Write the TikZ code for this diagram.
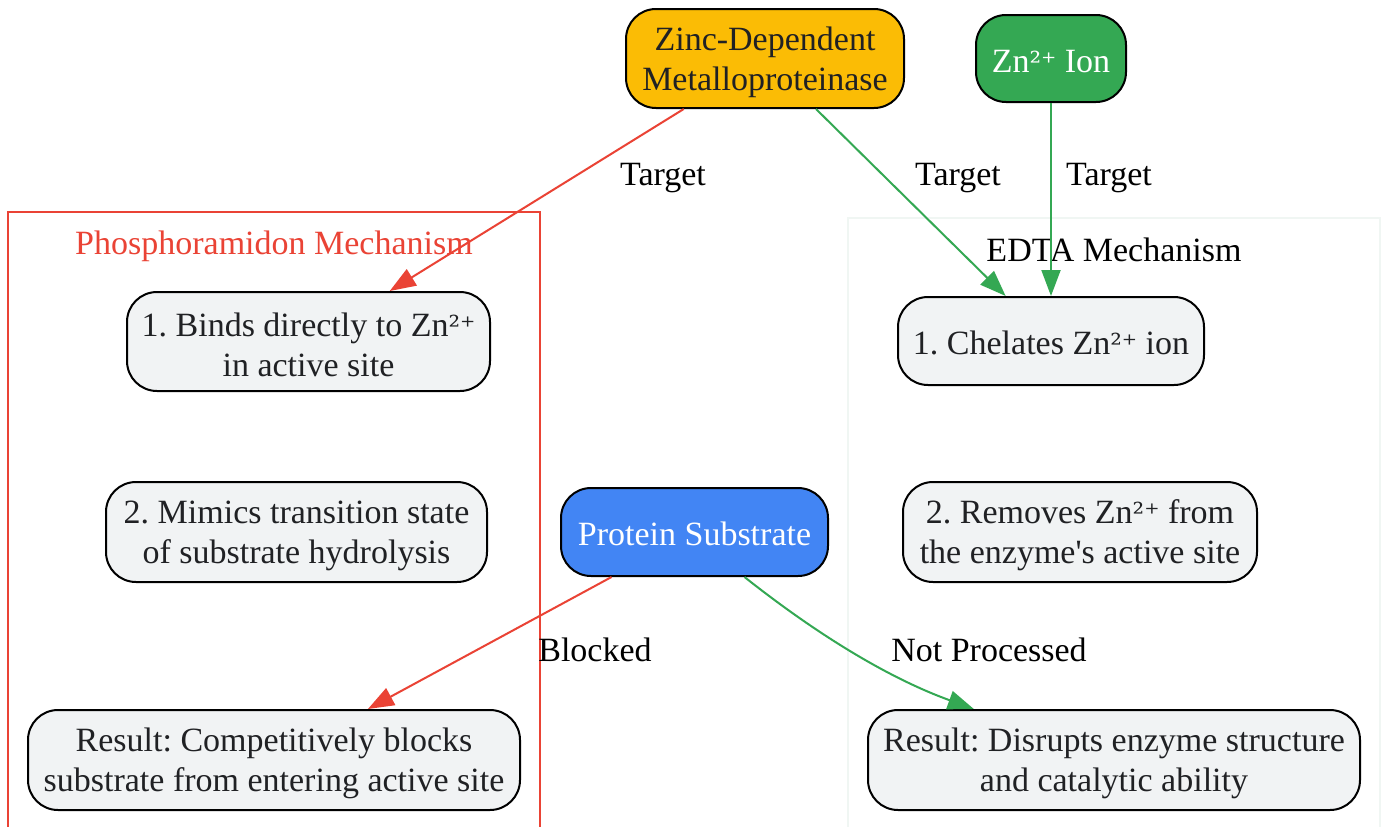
\documentclass[tikz,border=0pt]{standalone}
\usepackage{fontspec}
\setmainfont{Liberation Serif}
\newfontfamily\supfont{DejaVu Serif}[Scale=0.85]
\newcommand{\ztwo}{{\supfont ²⁺}}
\newcommand{\fl}{\rule{0pt}{31pt}}
\frenchspacing
\usetikzlibrary{arrows.meta}
\definecolor{gred}{HTML}{EA4335}
\definecolor{ggreen}{HTML}{34A853}
\definecolor{gyellow}{HTML}{FBBC05}
\definecolor{gblue}{HTML}{4285F4}
\definecolor{ggray}{HTML}{F1F3F4}
\definecolor{gtext}{HTML}{202124}
\definecolor{edtaborder}{HTML}{F0F6F3}
\begin{document}
\begin{tikzpicture}[x=1pt,y=-1pt,
  every node/.style={font=\fontsize{34}{40}\selectfont\frenchspacing, execute at begin node={\rule{0pt}{28pt}}},
  box/.style={draw=black, line width=2pt, rounded corners=30pt, align=center, inner sep=0pt, text=gtext},
  stepbox/.style={box, fill=ggray},
  lbl/.style={text=black, inner sep=0pt},
  redarrow/.style={draw=gred, line width=2pt, -{Triangle[length=26pt,width=19pt]}},
  greenarrow/.style={draw=ggreen, line width=2pt, -{Triangle[length=26pt,width=19pt]}}
]
\useasboundingbox (0,0) rectangle (1387,827);
\fill[white] (0,0) rectangle (1387,827);
% clusters
\draw[gred, line width=2pt] (8,850) -- (8,212) -- (540,212) -- (540,850);
\node[lbl, text=gred] (phlabel) at (274,244) {Phosphoramidon Mechanism};
\draw[edtaborder, line width=2pt] (848,850) -- (848,218) -- (1380,218) -- (1380,850);
\node[lbl] (edlabel) at (1114,248) {EDTA Mechanism};
% nodes
\node[box, fill=gyellow, minimum width=278pt, minimum height=99pt] (zinc) at (765,58.5) {\fl Zinc-Dependent\\Metalloproteinase};
\node[box, fill=ggreen, text=white, minimum width=150pt, minimum height=87pt] (ion) at (1051,58.5) {Zn\ztwo{} Ion};
\node[stepbox, minimum width=363pt, minimum height=99pt] (p1) at (308.5,341.5) {\fl 1. Binds directly to Zn\ztwo\\in active site};
\node[stepbox, minimum width=381pt, minimum height=100pt] (p2) at (296.5,532) {\fl 2. Mimics transition state\\of substrate hydrolysis};
\node[stepbox, minimum width=492pt, minimum height=100pt] (p3) at (274,760) {\fl Result: Competitively blocks\\substrate from entering active site};
\node[stepbox, minimum width=306pt, minimum height=88pt] (e1) at (1051,341) {1. Chelates Zn\ztwo{} ion};
\node[stepbox, minimum width=354pt, minimum height=100pt] (e2) at (1080,532) {\fl 2. Removes Zn\ztwo{} from\\the enzyme\textquotesingle s active site};
\node[stepbox, minimum width=492pt, minimum height=100pt] (e3) at (1114,760) {\fl Result: Disrupts enzyme structure\\and catalytic ability};
\node[box, fill=gblue, text=white, minimum width=267pt, minimum height=88pt] (prot) at (694.5,532) {Protein Substrate};
% edges
\draw[redarrow] (zinc) -- (p1);
\draw[greenarrow] (zinc) -- (e1);
\draw[greenarrow] (ion) -- (e1);
\draw[redarrow] (prot) -- (p3);
\draw[greenarrow] (prot.-42) .. controls (805,625) and (880,675) .. (e3.160);
% edge labels
\node[lbl] (t1) at (663,175) {Target};
\node[lbl] (t2) at (958,175) {Target};
\node[lbl] (t3) at (1109,175) {Target};
\node[lbl] (bl) at (595,648) {Blocked};
\node[lbl] (np) at (989,648) {Not Processed};
\end{tikzpicture}
\end{document}
